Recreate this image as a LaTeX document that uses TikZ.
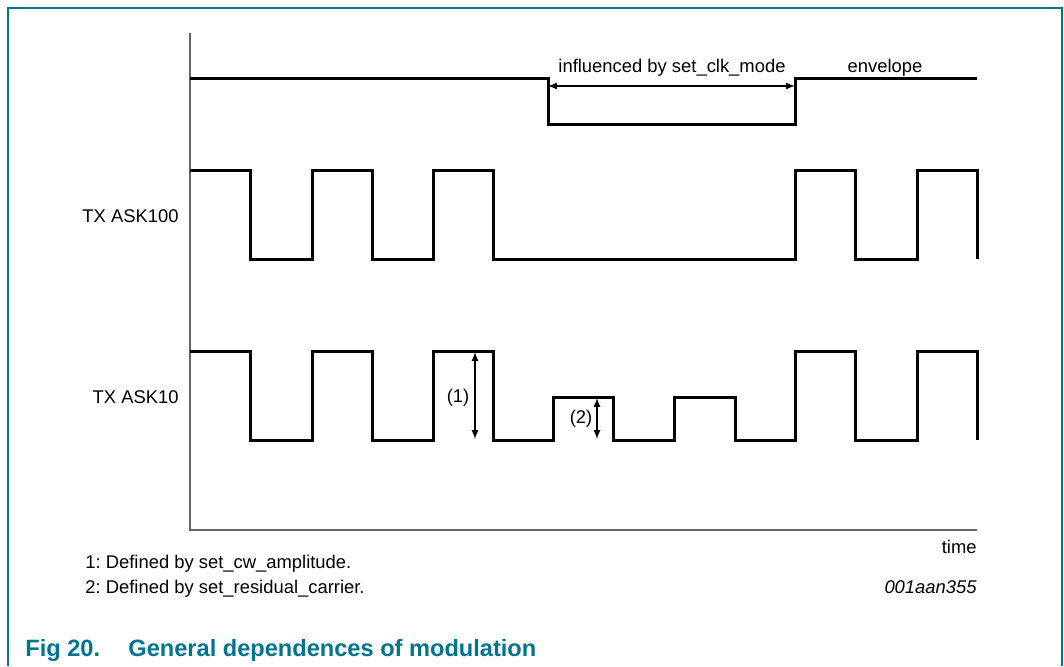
\documentclass[tikz,border=0pt]{standalone}
\usepackage{fontspec}
\setmainfont{Liberation Sans}
\frenchspacing
\definecolor{frameteal}{RGB}{0,117,143}
\tikzset{
  sig/.style={line width=1.5pt, line join=miter},
  axis/.style={line width=0.9pt, black!60},
  dim/.style={line width=0.55pt, latex-latex},
  lbl/.style={inner sep=0pt, font=\fontsize{9.2}{11}\selectfont},
}

\begin{document}
\begin{tikzpicture}[x=0.5pt, y=-0.5pt]
  \useasboundingbox (0,0) rectangle (1064,666);
  \draw[frameteal, line width=0.7pt] (8,666) -- (8,8) -- (1062,8) -- (1062,666);
  % axes
  \coordinate (top) at (190,33);
  \coordinate (orig) at (190,530);
  \coordinate (tend) at (977,530);
  \draw[axis] (top) -- (orig) -- (tend);
  % envelope
  \draw[sig] (190,78) -- (548,78) -- (548,124) -- (795,124) -- (795,78) -- (977,78);
  \coordinate (clka) at (548,86);
  \coordinate (clkb) at (795,86);
  \draw[dim] (clka) -- (clkb);
  \node[lbl, anchor=base] (clk) at (672,72) {influenced by set\_clk\_mode};
  \node[lbl, anchor=base] (env) at (885,72) {envelope};
  % TX ASK100
  \node[lbl, anchor=base east] (ask100) at (179,222) {TX ASK100};
  \draw[sig] (190,170) -- (250,170) -- (250,259) -- (312,259) -- (312,170) -- (372,170)
    -- (372,259) -- (433,259) -- (433,170) -- (493,170) -- (493,259) -- (795,259)
    -- (795,170) -- (855,170) -- (855,259) -- (917,259) -- (917,170) -- (977,170) -- (977,259);
  % TX ASK10
  \node[lbl, anchor=base east] (ask10) at (179,403) {TX ASK10};
  \draw[sig] (190,351) -- (250,351) -- (250,440) -- (312,440) -- (312,351) -- (372,351)
    -- (372,440) -- (433,440) -- (433,351) -- (493,351) -- (493,440) -- (553,440)
    -- (553,397) -- (613,397) -- (613,440) -- (674,440) -- (674,397) -- (735,397)
    -- (735,440) -- (795,440) -- (795,351) -- (855,351) -- (855,440) -- (917,440)
    -- (917,351) -- (977,351) -- (977,440);
  \coordinate (cwa) at (475,352);
  \coordinate (cwb) at (475,439);
  \draw[dim] (cwa) -- (cwb);
  \node[lbl] (n1) at (458,398) {(1)};
  \coordinate (rca) at (597,398);
  \coordinate (rcb) at (597,439);
  \draw[dim] (rca) -- (rcb);
  \node[lbl] (n2) at (581,419) {(2)};
  % notes
  \node[lbl, anchor=base east] (time) at (977,553) {time};
  \node[lbl, anchor=base west] (note1) at (85,568) {1: Defined by set\_cw\_amplitude.};
  \node[lbl, anchor=base west] (note2) at (85,593) {2: Defined by set\_residual\_carrier.};
  \node[lbl, anchor=base east, font=\fontsize{9.2}{11}\selectfont\itshape] (code) at (977,593) {001aan355};
  \node[anchor=base west, inner sep=0pt, text=frameteal, font=\fontsize{11.8}{14}\selectfont\bfseries] (cap) at (25,656)
    {Fig 20.\hspace{1.2em}General dependences of modulation};
\end{tikzpicture}
\end{document}
